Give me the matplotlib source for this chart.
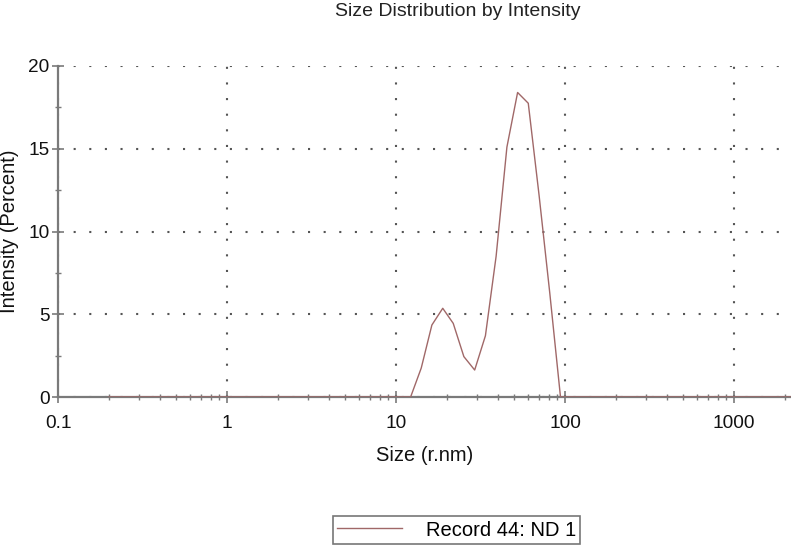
import numpy as np
import matplotlib
matplotlib.use('Agg')
import matplotlib.pyplot as plt
from matplotlib.ticker import LogLocator, FixedLocator, FixedFormatter, MultipleLocator

plt.rcParams['font.family'] = ['Liberation Sans', 'DejaVu Sans']

# size bins (r.nm) and intensity (%)
sizes = [0.2, 12.2, 14.1, 16.3, 18.9, 21.8, 25.2, 29.2, 33.8, 39.1, 45.3,
         52.4, 60.6, 70.2, 81.2, 94.0, 5000]
intensity = [0, 0, 1.75, 4.35, 5.36, 4.45, 2.44, 1.63, 3.7, 8.5, 15.1,
             18.4, 17.75, 12.2, 6.3, 0, 0]

xticks = [0.1, 1, 10, 100, 1000]
xticklabels = ['0.1', '1', '10', '100', '1000']
yticks = [0, 5, 10, 15, 20]

fig = plt.figure(figsize=(7.91, 5.47), dpi=100)
ax = fig.add_axes([58 / 791, 1 - 397 / 547, 1 - 58 / 791, (397 - 66) / 547])

line_color = '#a06868'
axis_color = '#7a7a7a'

ax.plot(sizes, intensity, color=line_color, lw=1.0, label='Record 44: ND 1', zorder=3)

ax.set_xscale('log')
ax.set_xlim(0.1, 10 ** 3.337)
ax.set_ylim(0, 20)

ax.xaxis.set_major_locator(FixedLocator(xticks))
ax.xaxis.set_major_formatter(FixedFormatter(xticklabels))
ax.xaxis.set_minor_locator(LogLocator(base=10, subs=np.arange(2, 10)))
ax.yaxis.set_major_locator(FixedLocator(yticks))
ax.yaxis.set_minor_locator(MultipleLocator(2.5))

for s in ['top', 'right']:
    ax.spines[s].set_visible(False)
for s in ['left', 'bottom']:
    ax.spines[s].set_color(axis_color)
    ax.spines[s].set_linewidth(1.6)
    ax.spines[s].set_zorder(2)

ax.tick_params(which='major', direction='inout', length=8, width=1.2, color=axis_color,
               labelsize=13.7, labelcolor='#111111')
ax.tick_params(axis='x', which='major', pad=9)
ax.tick_params(axis='y', which='major', pad=2)
ax.tick_params(which='minor', direction='inout', length=5, width=1.0, color=axis_color)
ax.tick_params(axis='x', which='minor', labelbottom=False)

ax.grid(True, which='major', color='#555555', linestyle=(0, (1, 6.5)), linewidth=1.5)

ax.set_xlabel('Size (r.nm)', fontsize=14.5, labelpad=10, color='#111111')
ax.set_ylabel('Intensity (Percent)', fontsize=14.5, color='#111111', va='center')
ax.yaxis.set_label_coords((10 - 58) / 733, 0.5)

fig.text(458 / 791, 1 - 11 / 547, 'Size Distribution by Intensity', ha='center', va='center',
         fontsize=14, color='#222222')

leg = fig.legend(loc='center', bbox_to_anchor=(456.5 / 791, 1 - 530 / 547), fontsize=14.5,
                 frameon=True, fancybox=False, edgecolor='#555555', handlelength=3.2,
                 handletextpad=1.2, borderpad=0.2, borderaxespad=0)
leg.get_frame().set_linewidth(1.2)

fig.savefig('out.png', dpi=100)
